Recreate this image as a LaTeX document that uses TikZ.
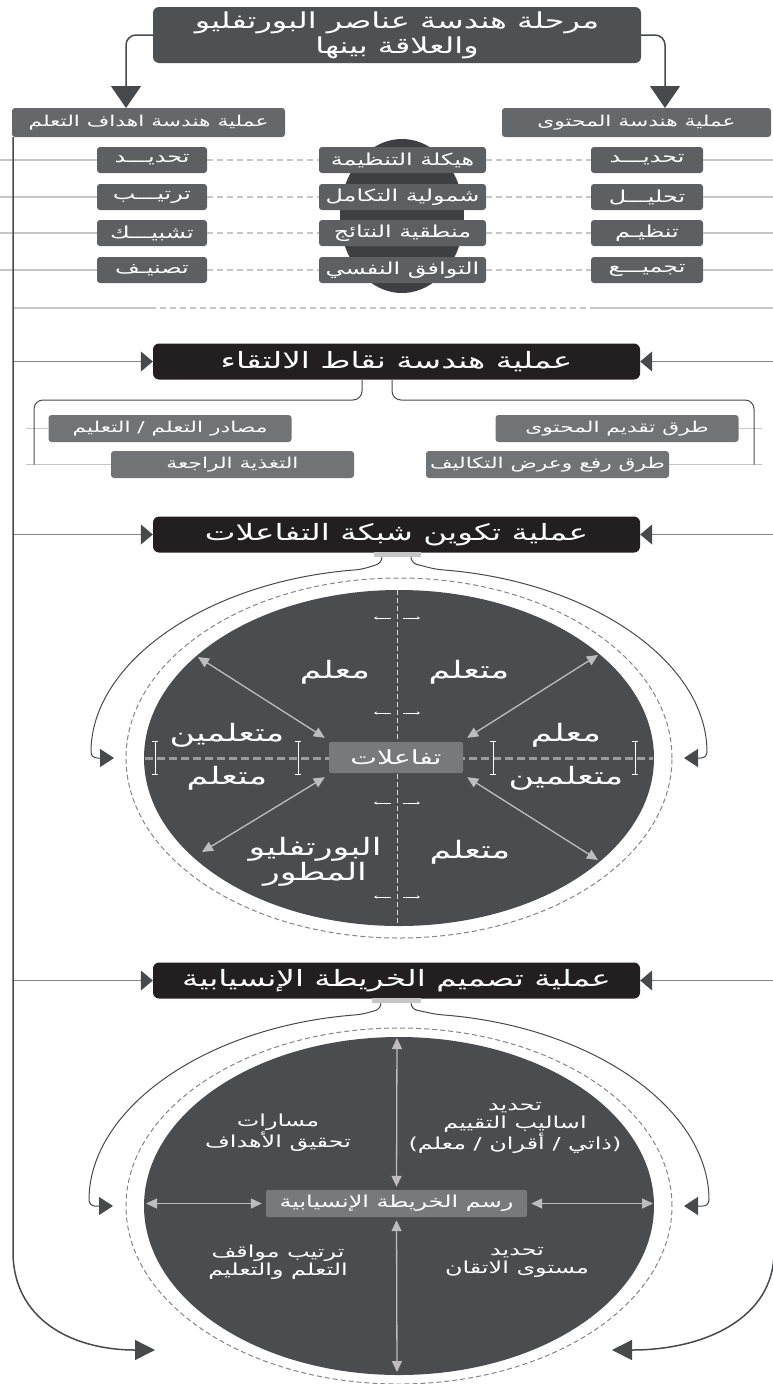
\documentclass[tikz,border=0pt]{standalone}
\usepackage{fontspec}
\usepackage{tikz}
\usetikzlibrary{arrows.meta}
\usetikzlibrary{calc}
\TeXXeTstate=1
\newfontfamily\arabicfont[Script=Arabic, FakeStretch=1.45]{DejaVu Sans}
\newcommand{\rl}[1]{\beginR #1\endR}

\definecolor{titlegray}{HTML}{4F5052}
\definecolor{headgray}{HTML}{666769}
\definecolor{stepgray}{HTML}{5E5F61}
\definecolor{barrelgray}{HTML}{3E3F41}
\definecolor{subgray}{HTML}{727375}
\definecolor{nearblack}{HTML}{231F20}
\definecolor{ellgray}{HTML}{4B4C4E}
\definecolor{hubgray}{HTML}{78797B}
\definecolor{linegray}{HTML}{C6C6C6}
\definecolor{darkline}{HTML}{48494B}
\definecolor{sidegray}{HTML}{858585}
\definecolor{arrowgray}{HTML}{BDBDBD}

\tikzset{
  every node/.style={text=white, inner sep=0pt, align=center},
  titlebox/.style={fill=titlegray, rounded corners=6pt, minimum width=488pt,
    minimum height=56pt, font=\arabicfont\fontsize{22}{25}\selectfont},
  headbox/.style={fill=headgray, rounded corners=3pt, minimum height=29pt,
    font=\arabicfont\fontsize{15}{18}\selectfont},
  stepbox/.style={fill=stepgray, rounded corners=3pt, minimum height=26pt,
    font=\arabicfont\fontsize{16.5}{18}\selectfont},
  phasebox/.style={fill=nearblack, rounded corners=6pt, minimum width=487pt,
    minimum height=36pt, font=\arabicfont\fontsize{22.5}{26}\selectfont},
  pointbox/.style={fill=subgray, rounded corners=3pt, minimum width=243pt,
    minimum height=27pt, font=\arabicfont\fontsize{15}{18}\selectfont},
  hubbox/.style={fill=hubgray, rounded corners=2pt},
  rolelabel/.style={font=\arabicfont\fontsize{24}{25}\selectfont},
  maplabel/.style={font=\arabicfont\fontsize{16.5}{18}\selectfont},
  barline/.style={draw=darkline, line width=1.5pt},
  arcline/.style={draw=darkline, line width=1pt, rounded corners=6pt},
  sideline/.style={draw=sidegray, line width=1.2pt, -{Triangle[length=12pt,width=20pt,color=darkline]}},
  feedline/.style={draw=linegray, line width=1.6pt},
  linkdash/.style={draw=linegray, line width=1.6pt, dash pattern=on 6pt off 4pt},
  ringdash/.style={draw=sidegray, line width=1pt, dash pattern=on 5pt off 3pt},
  twoway/.style={draw=arrowgray, line width=1.3pt,
    {Triangle[length=11pt,width=10pt]}-{Triangle[length=11pt,width=10pt]}},
  ibeam/.style={draw=white, line width=0.6pt, {Bar[width=6pt]}-{Bar[width=6pt]}},
  tinyarrow/.style={draw=white, line width=0.6pt, -{Stealth[length=3pt,width=3pt]}},
}

\begin{document}
\begin{tikzpicture}[x=1pt, y=-1pt]
	\useasboundingbox (0,0) rectangle (773,1384);

	% bars on both sides
	\coordinate (lbar) at (13,137);
	\coordinate (rbar) at (774,137);

	% header stage
	\node[titlebox] (title) at (397,35)
		{\rl{مرحلة هندسة عناصر البورتفليو}\\\rl{والعلاقة بينها}};
	\node[headbox, minimum width=273pt] (goalhead) at (148.5,122.5)
		{\rl{عملية هندسة اهداف التعلم}};
	\node[headbox, minimum width=269pt] (contenthead) at (636.5,122.5)
		{\rl{عملية هندسة المحتوى}};
	\coordinate (goaltop) at (126,108);
	\coordinate (contenttop) at (665,108);

	\draw[barline, rounded corners=10pt, -{Triangle[length=22pt,width=30pt]}]
		(title.west) -| (goaltop);
	\draw[barline, rounded corners=10pt, -{Triangle[length=22pt,width=30pt]}]
		(title.east) -| (contenttop);

	\fill[barrelgray] (402,216) ellipse [x radius=62pt, y radius=77pt];

	\foreach \i/\y/\ltxt/\mtxt/\rtxt in {
		1/160/تحديـــد/هيكلة التنظيمة/تحديـــد,
		2/197/ترتيـــب/شمولية التكامل/تحليـــل,
		3/233/تشبيـــك/منطقية النتائج/تنظيـم,
		4/270/تصنيـف/التوافق النفسي/تجميـــع}{
		\node[stepbox, minimum width=110pt] (lstep\i) at (152,\y) {\rl{\ltxt}};
		\node[stepbox, minimum width=167pt] (mstep\i) at (402.5,\y) {\rl{\mtxt}};
		\node[stepbox, minimum width=112pt] (rstep\i) at (647,\y) {\rl{\rtxt}};
		\draw[feedline] (0,\y) -- (lstep\i.west);
		\draw[feedline] (rstep\i.east) -- (773,\y);
		\draw[linkdash] (lstep\i.east) -- (mstep\i.west);
		\draw[linkdash] (mstep\i.east) -- (rstep\i.west);
	}

	\draw[feedline] (13,308) -- (150,308);
	\draw[linkdash] (150,308) -- (590,308);
	\draw[feedline] (590,308) -- (773,308);

	% meeting points
	\node[phasebox] (meet) at (396.5,361.5) {\rl{عملية هندسة نقاط الالتقاء}};
	\draw[sideline] (meet.west -| lbar) -- (meet.west);
	\draw[sideline] (meet.east -| rbar) -- (meet.east);

	\node[pointbox] (sources) at (170,428.5) {\rl{مصادر التعلم / التعليم}};
	\node[pointbox] (feedback) at (232.5,464.5) {\rl{التغذية الراجعة}};
	\node[pointbox] (delivery) at (617,428.5) {\rl{طرق تقديم المحتوى}};
	\node[pointbox] (tasks) at (547.5,464.5) {\rl{طرق رفع وعرض التكاليف}};

	\draw[feedline] (26,428.5) -- (sources.west);
	\draw[feedline] (26,464.5) -- (feedback.west);
	\draw[feedline] (delivery.east) -- (762,428.5);
	\draw[feedline] (tasks.east) -- (762,464.5);
	\draw[arcline, rounded corners=9pt] (362,380) -- (362,400) -- (34,400) -- (34,464.5);
	\draw[arcline, rounded corners=9pt] (392,380) -- (392,400) -- (754,400) -- (754,464.5);

	% network of interactions
	\node[phasebox] (net) at (396.5,534.5) {\rl{عملية تكوين شبكة التفاعلات}};
	\draw[sideline] (net.west -| lbar) -- (net.west);
	\draw[sideline] (net.east -| rbar) -- (net.east);
	\fill[linegray] (374,552) rectangle (421,557);

	\draw[arcline, -{Triangle[length=14pt,width=18pt]}]
		(382,557) -- (382,563) -- ({399+308*cos(97)},{758-190*sin(97)})
		arc[start angle=97, end angle=180, x radius=308pt, y radius=190pt] -- (114,758);
	\draw[arcline, -{Triangle[length=14pt,width=18pt]}]
		(411,557) -- (411,563) -- ({399+308*cos(83)},{758-190*sin(83)})
		arc[start angle=83, end angle=0, x radius=308pt, y radius=190pt] -- (684,758);

	\draw[ringdash] (399,758) ellipse [x radius=273pt, y radius=180pt];
	\fill[ellgray] (399,758) ellipse [x radius=255pt, y radius=168pt];
	\draw[draw=sidegray!80, line width=3pt, dash pattern=on 8pt off 4pt] (145,758) -- (653,758);
	\draw[draw=white!85!black, line width=1pt, dash pattern=on 5pt off 3pt] (397,590) -- (397,926);

	\node[hubbox, minimum width=134pt, minimum height=31pt,
		font=\arabicfont\fontsize{19.5}{22}\selectfont] (hub) at (396,757.5) {\rl{تفاعلات}};

	\coordinate (ulrim) at (198,657);
	\coordinate (urrim) at (598,655);
	\coordinate (llrim) at (202,852);
	\coordinate (lrrim) at (598,860);
	\draw[twoway] ($(hub.north west)+(-4,-4)$) -- (ulrim);
	\draw[twoway] ($(hub.north east)+(4,-4)$) -- (urrim);
	\draw[twoway] ($(hub.south west)+(-4,4)$) -- (llrim);
	\draw[twoway] ($(hub.south east)+(4,4)$) -- (lrrim);

	\foreach \x in {155,298,493,635}{
		\draw[ibeam] (\x,741) -- (\x,775);
	}
	\foreach \y in {618,713,803,897}{
		\draw[tinyarrow] (391,\y) -- (374,\y);
		\draw[tinyarrow] (403,\y) -- (420,\y);
	}

	\node[rolelabel] (teacherA) at (335,672) {\rl{معلم}};
	\node[rolelabel] (learnerA) at (469,672) {\rl{متعلم}};
	\node[rolelabel] (learnersL) at (227,735) {\rl{متعلمين}};
	\node[rolelabel] (learnerL) at (227,778) {\rl{متعلم}};
	\node[rolelabel] (teacherR) at (566,735) {\rl{معلم}};
	\node[rolelabel] (learnersR) at (566,778) {\rl{متعلمين}};
	\node[rolelabel] (portfolio) at (315,862) {\rl{البورتفليو}\\\rl{المطور}};
	\node[rolelabel] (learnerB) at (470,852) {\rl{متعلم}};

	% flow map
	\node[phasebox] (plan) at (396.5,980.5) {\rl{عملية تصميم الخريطة الإنسيابية}};
	\draw[sideline] (plan.west -| lbar) -- (plan.west);
	\draw[sideline] (plan.east -| rbar) -- (plan.east);
	\fill[linegray] (372,998) rectangle (421,1003);

	\draw[arcline, -{Triangle[length=14pt,width=18pt]}]
		(381,1003) -- (381,1009) -- ({399+310*cos(97)},{1206-193*sin(97)})
		arc[start angle=97, end angle=180, x radius=310pt, y radius=193pt] -- (113,1206);
	\draw[arcline, -{Triangle[length=14pt,width=18pt]}]
		(411,1003) -- (411,1009) -- ({399+310*cos(83)},{1206-193*sin(83)})
		arc[start angle=83, end angle=0, x radius=310pt, y radius=193pt] -- (684,1206);

	\draw[ringdash] (399,1206) ellipse [x radius=273pt, y radius=178pt];
	\fill[ellgray] (399,1206) ellipse [x radius=255pt, y radius=169pt];

	\node[hubbox, minimum width=261pt, minimum height=27pt,
		font=\arabicfont\fontsize{16.5}{18}\selectfont] (map) at (396.5,1203.5)
		{\rl{رسم الخريطة الإنسيابية}};
	\coordinate (maptop) at (397,1038);
	\coordinate (mapbottom) at (397,1372);
	\coordinate (mapleft) at (146,1203.5);
	\coordinate (mapright) at (653,1203.5);
	\draw[twoway] (maptop) -- ($(map.north)+(0,-3)$);
	\draw[twoway] ($(map.south)+(0,3)$) -- (mapbottom);
	\draw[twoway] (mapleft) -- ($(map.west)+(-4,0)$);
	\draw[twoway] ($(map.east)+(4,0)$) -- (mapright);

	\node[maplabel] (assess) at (515,1128)
		{\rl{تحديد}\\\rl{اساليب التقييم}\\\rl{(ذاتي / أقران / معلم)}};
	\node[maplabel] (paths) at (278,1133) {\rl{مسارات}\\\rl{تحقيق الأهداف}};
	\node[maplabel] (order) at (278,1262) {\rl{ترتيب مواقف}\\\rl{التعلم والتعليم}};
	\node[maplabel] (mastery) at (517,1262) {\rl{تحديد}\\\rl{مستوى الاتقان}};

	% the two side bars
	\draw[barline, -{Triangle[length=20pt,width=20pt]}]
		(lbar) -- (13,1252) .. controls (13,1318) and (70,1350) .. (155,1350);
	\draw[barline, -{Triangle[length=20pt,width=20pt]}]
		(rbar) -- (774,1252) .. controls (774,1318) and (705,1350) .. (612,1350);
\end{tikzpicture}
\end{document}
